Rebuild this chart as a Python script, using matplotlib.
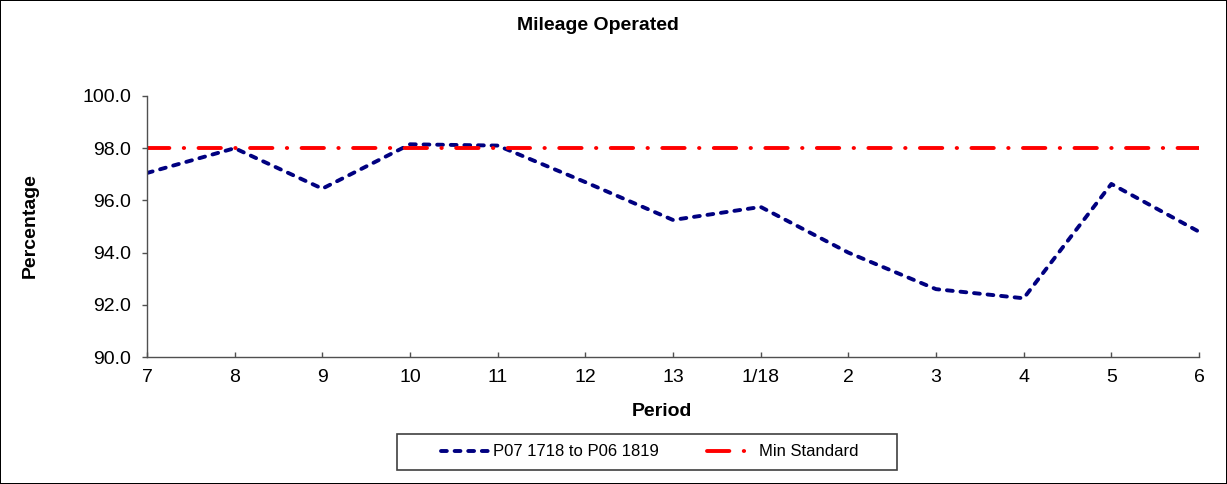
import matplotlib.pyplot as plt
from matplotlib.patches import Rectangle

plt.rcParams['font.family'] = ['Liberation Sans', 'DejaVu Sans']

# data
periods = ['7', '8', '9', '10', '11', '12', '13', '1/18', '2', '3', '4', '5', '6']
mileage = [97.05, 98.0, 96.45, 98.15, 98.1, 96.7, 95.25, 95.75, 94.0, 92.6, 92.25, 96.63, 94.8]
min_standard = [98.0] * len(periods)

series_label = 'P07 1718 to P06 1819'
standard_label = 'Min Standard'

W, H = 1227, 484
fig = plt.figure(figsize=(W / 100, H / 100), dpi=100)
fig.patch.set_edgecolor('black')
fig.patch.set_linewidth(1.2)

ax = fig.add_axes([147 / W, 1 - 357 / H, (1199 - 147) / W, (357 - 96) / H])

x = list(range(len(periods)))
blue, = ax.plot(x, mileage, color='#000080', lw=2.8, linestyle=(0, (1.5, 2.0)),
                dash_capstyle='round', solid_capstyle='round', label=series_label)
red, = ax.plot(x, min_standard, color='#ff0000', lw=2.8,
               linestyle=(0, (5.75, 3.7, 0.1, 3.7)), dash_capstyle='round',
               label=standard_label)

ax.set_xlim(0, len(periods) - 1)
ax.set_ylim(90, 100)
ax.set_yticks([90, 92, 94, 96, 98, 100])
ax.set_yticklabels([f'{v:.1f}' for v in [90, 92, 94, 96, 98, 100]])
ax.set_xticks(x)
ax.set_xticklabels(periods)

for s in ['top', 'right']:
    ax.spines[s].set_visible(False)
for s in ['left', 'bottom']:
    ax.spines[s].set_color('#505050')
    ax.spines[s].set_linewidth(1.0)

ax.tick_params(axis='y', direction='out', length=3.6, width=1, color='#505050',
               labelsize=14, pad=8)
ax.tick_params(axis='x', direction='in', length=3.6, width=1, color='#505050',
               labelsize=14, pad=9)

fig.text(598 / W, 1 - 25 / H, 'Mileage Operated', ha='center', va='center',
         fontsize=14, fontweight='bold')
fig.text(30 / W, 1 - 226 / H, 'Percentage', ha='center', va='center',
         rotation=90, fontsize=14, fontweight='bold')
fig.text(662 / W, 1 - 412 / H, 'Period', ha='center', va='center',
         fontsize=14, fontweight='bold')

# legend frame drawn separately, legend itself centred inside
fig.patches.append(Rectangle((397 / W, 1 - 470 / H), 500 / W, 36 / H,
                             transform=fig.transFigure, fill=False,
                             edgecolor='#404040', lw=1.2))
fig.legend(handles=[blue, red], loc='center', bbox_to_anchor=(650 / W, 1 - 452 / H),
           ncol=2, frameon=False, fontsize=12, handlelength=2.8,
           handletextpad=0.3, columnspacing=2.9)

fig.savefig('out.png', dpi=100)
